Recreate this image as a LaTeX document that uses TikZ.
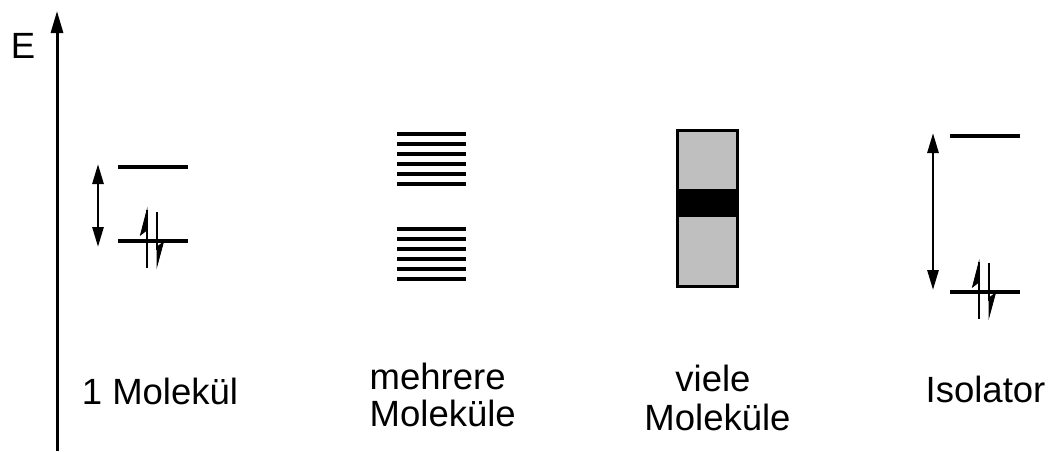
\documentclass[tikz,border=0pt]{standalone}
\usepackage{fontspec}
\setmainfont{Liberation Sans}
\usetikzlibrary{arrows.meta}
\definecolor{bandgray}{HTML}{BFBFBF}
\tikzset{
  lvl/.style={line width=3.3pt},
  axisline/.style={line width=3pt,-{Triangle[length=22pt,width=12pt]}},
  gaparrow/.style={line width=2.8pt,{Triangle[length=20pt,width=11pt]}-{Triangle[length=20pt,width=11pt]}},
  spin/.style={line width=2.8pt},
  barb/.style={fill=black,draw=black,line width=0.8pt},
  lbl/.style={inner sep=0pt,anchor=base,font=\fontsize{36.5}{38}\selectfont},
}
\begin{document}
\begin{tikzpicture}[x=1pt,y=-1pt]
\useasboundingbox (0,0) rectangle (1051,451);
% energy axis
\coordinate (ax0) at (57,451);
\coordinate (ax1) at (57,11);
\draw[axisline] (ax0) -- (ax1);
\node[lbl] (E) at (23,58) {E};

% 1 Molekuel
\coordinate (a1l) at (118,167); \coordinate (a1r) at (188,167);
\coordinate (a2l) at (118,241); \coordinate (a2r) at (188,241);
\draw[lvl] (a1l) -- (a1r);
\draw[lvl] (a2l) -- (a2r);
\coordinate (ga0) at (98,164); \coordinate (ga1) at (98,247);
\draw[gaparrow] (ga0) -- (ga1);
\coordinate (su0) at (147,268); \coordinate (su1) at (147,210);
\draw[spin] (su0) -- (147,226);
\fill[barb] (su1) -- (140.5,235) -- (147,230) -- cycle;
\draw[spin] (147,230) -- (su1);
\coordinate (sd0) at (157,212); \coordinate (sd1) at (157,266);
\draw[spin] (sd0) -- (157,250);
\fill[barb] (sd1) -- (163.5,242) -- (157,247) -- cycle;
\node[lbl] (t1) at (160,404) {1 Molekül};

% mehrere Molekuele
\foreach \y in {134,144,154,164,174,184,229,239,249,259,269,279}
  \draw[lvl] (397,\y) -- (466,\y);
\node[lbl,anchor=base west] (t2a) at (369.5,389) {mehrere};
\node[lbl,anchor=base west] (t2b) at (369.5,426) {Moleküle};

% viele Molekuele
\coordinate (r0) at (677,130); \coordinate (r1) at (737,286);
\fill[bandgray] (r0) rectangle (r1);
\fill[black] (677,189) rectangle (737,217);
\draw[line width=3pt] (r0) rectangle (r1);
\node[lbl] (t3a) at (713,391) {viele};
\node[lbl] (t3b) at (717.5,430) {Moleküle};

% Isolator
\coordinate (i1l) at (950,136); \coordinate (i1r) at (1020,136);
\coordinate (i2l) at (950,292); \coordinate (i2r) at (1020,292);
\draw[lvl] (i1l) -- (i1r);
\draw[lvl] (i2l) -- (i2r);
\coordinate (gi0) at (933,133); \coordinate (gi1) at (933,290);
\draw[gaparrow] (gi0) -- (gi1);
\coordinate (iu0) at (979,319); \coordinate (iu1) at (979,262);
\draw[spin] (iu0) -- (979,278);
\fill[barb] (iu1) -- (972.5,287) -- (979,282) -- cycle;
\draw[spin] (979,282) -- (iu1);
\coordinate (id0) at (989,263); \coordinate (id1) at (989,317);
\draw[spin] (id0) -- (989,301);
\fill[barb] (id1) -- (995.5,293) -- (989,298) -- cycle;
\node[lbl] (t4) at (985.5,402) {Isolator};
\end{tikzpicture}
\end{document}
